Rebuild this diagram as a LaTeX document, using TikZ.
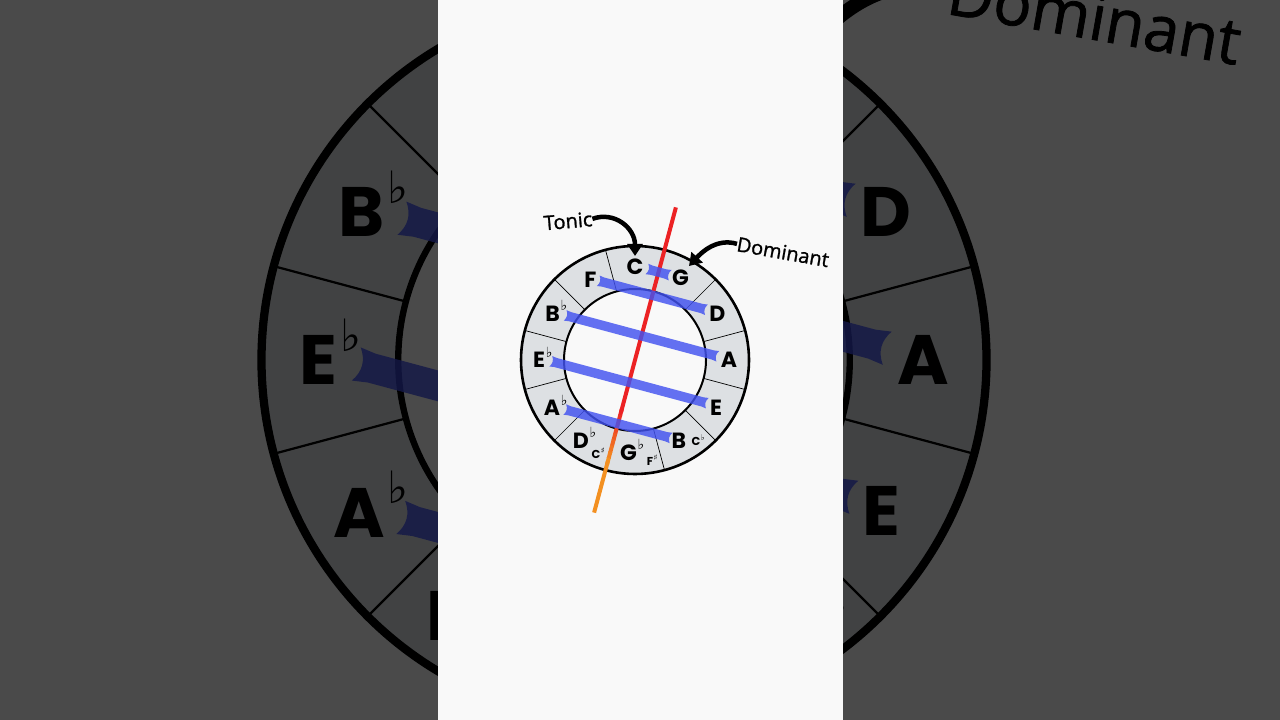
\documentclass[tikz,border=0pt]{standalone}
\usepackage{fontspec}
\usetikzlibrary{arrows.meta,calc}
\newfontfamily\notefont{Poppins}
\newfontfamily\symf{DejaVu Sans}
\newfontfamily\labelf{Open Sans}[FakeBold=1.2]
\definecolor{panelwhite}{HTML}{F9F9F9}
\definecolor{ringgray}{HTML}{DDE0E3}
\definecolor{barblue}{RGB}{66,82,240}
\definecolor{linered}{HTML}{EC2224}
\definecolor{lineorange}{HTML}{F39021}
\tikzset{
 notelbl/.style={font=\notefont\bfseries\fontsize{22}{22}\selectfont, inner sep=0pt},
 seclbl/.style={font=\notefont\bfseries\fontsize{11.5}{11.5}\selectfont, inner sep=0pt},
 annot/.style={font=\labelf\fontsize{20}{20}\selectfont, inner sep=0pt},
 barfill/.style={fill=barblue, fill opacity=0.82},
}
\newcommand\flt{\rlap{\smash{\kern0.8pt\raisebox{10.5pt}{\symf\fontsize{14}{14}\selectfont ♭}}}}
\newcommand\sflt{\rlap{\smash{\kern0.5pt\raisebox{5pt}{\symf\fontsize{8}{8}\selectfont ♭}}}}
\newcommand\ssharp{\rlap{\smash{\kern0.5pt\raisebox{4.5pt}{\symf\fontsize{8}{8}\selectfont ♯}}}}
\newcommand\notebar[2]{%
 \fill[barfill] (-#2,#1-5.4) .. controls (-#2+2.5,#1-1.8) and (-#2+2.5,#1+1.8) .. (-#2,#1+5.4)
 -- (-#2+5,#1+4.7) -- (#2-5,#1+4.7) -- (#2,#1+5.4)
 .. controls (#2-2.5,#1+1.8) and (#2-2.5,#1-1.8) .. (#2,#1-5.4)
 -- (#2-5,#1-4.7) -- (-#2+5,#1-4.7) -- cycle;}
\newcommand\wheel[1]{%
 \pgfmathsetmacro\lw{#1}%
 \pgfmathsetmacro\aw{#1*15}%
 \pgfmathsetmacro\al{#1*12}%
 \fill[ringgray, even odd rule] (0,0) circle[radius=114] (0,0) circle[radius=71];
 \foreach \a in {15,45,...,345} \draw[line width=\lw*0.7pt] (\a:71) -- (\a:114);
 \draw[line width=\lw*2.6pt] (0,0) circle[radius=114];
 \draw[line width=\lw*2pt] (0,0) circle[radius=71];
 \coordinate (axtop) at (75:158);
 \coordinate (axbot) at (255:158);
 \draw[linered, line width=\lw*4pt] (axtop) -- ($(axtop)!0.67!(axbot)$);
 \foreach \i in {0,...,8}{%
   \pgfmathsetmacro\ta{0.66+0.02*\i}%
   \pgfmathsetmacro\tb{\ta+0.022}%
   \pgfmathsetmacro\pc{\i*12.5}%
   \draw[lineorange!\pc!linered, line width=\lw*4pt] ($(axtop)!\ta!(axbot)$) -- ($(axtop)!\tb!(axbot)$);}
 \draw[lineorange, line width=\lw*4pt] ($(axtop)!0.83!(axbot)$) -- (axbot);
 \begin{scope}[rotate=-15]
  \notebar{91}{12}
  \notebar{67}{56}
  \notebar{25}{79}
  \notebar{-23}{81}
  \notebar{-66}{55}
 \end{scope}
 \node[notelbl] (n-C) at (90:93) {C};
 \node[notelbl] (n-G) at (61:94) {G};
 \node[notelbl] (n-D) at (29.5:94.5) {D};
 \node[notelbl] (n-A) at (0:94) {A};
 \node[notelbl] (n-E) at (-30.4:94) {E};
 \node[notelbl] (n-B) at (-61.5:92) {B};
 \node[notelbl] (n-Gb) at (-94:92.5) {G\flt};
 \node[notelbl] (n-Db) at (-124:97) {D\flt};
 \node[notelbl] (n-Ab) at (-150:96) {A\flt};
 \node[notelbl] (n-Eb) at (180:96) {E\flt};
 \node[notelbl] (n-Bb) at (150.6:94.7) {B\flt};
 \node[notelbl] (n-F) at (119:92) {F};
 \node[seclbl] (s-Cs) at (-39,-94) {C\ssharp};
 \node[seclbl] (s-Fs) at (15,-101) {F\ssharp};
 \node[seclbl] (s-Cb) at (61,-81) {C\sflt};
 \node[annot, rotate=5] (tonic) at (-67,139) {Tonic};
 \node[annot, rotate=-10] (dominant) at (148,108) {Dominant};
 \coordinate (tonictip) at (0,104);
 \coordinate (domtip) at (54,94);
 \draw[line width=\lw*4.5pt, -{Triangle[width=\aw pt, length=\al pt]}]
   (tonic.east) .. controls +(22,8) and +(0,28) .. (tonictip);
 \draw[line width=\lw*4.5pt, -{Triangle[width=\aw pt, length=\al pt]}]
   (dominant.west) .. controls +(-20,6) and +(13,14) .. (domtip);
}
\begin{document}
\begin{tikzpicture}[x=1pt,y=1pt]
\useasboundingbox (0,0) rectangle (1280,720);
\fill[panelwhite] (0,0) rectangle (1280,720);
\begin{scope}
 \clip (0,0) rectangle (1280,720);
 \begin{scope}[shift={(624,360)}, scale=3.18, transform shape, name prefix=big-]
  \wheel{3.18}
 \end{scope}
\end{scope}
\fill[black, opacity=0.7] (0,0) rectangle (1280,720);
\fill[panelwhite] (437.5,0) rectangle (842.5,720);
\begin{scope}[shift={(635,360)}]
 \wheel{1}
\end{scope}
\end{tikzpicture}
\end{document}
